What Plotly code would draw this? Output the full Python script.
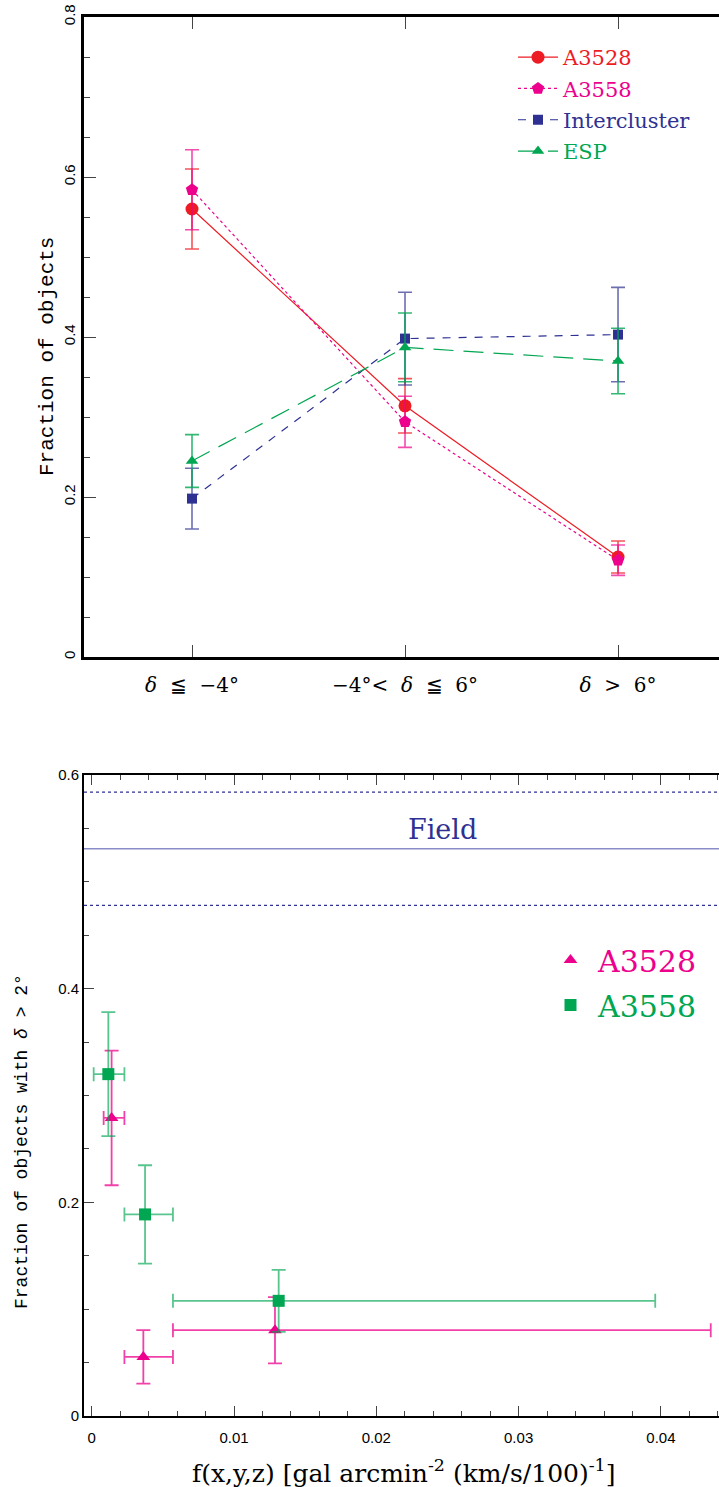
import plotly.graph_objects as go

# ---------------- data: top panel ----------------
categories = [1, 2, 3]
cat_labels = ["<i>δ</i>  ≦  −4°", "−4°<  <i>δ</i>  ≦  6°", "<i>δ</i>  >  6°"]

a3528_frac = [0.560, 0.314, 0.125]
a3528_err = [0.050, 0.034, 0.020]
a3558_frac = [0.584, 0.294, 0.121]
a3558_err = [0.050, 0.032, 0.019]
inter_frac = [0.198, 0.398, 0.403]
inter_err = [0.038, 0.058, 0.059]
esp_frac = [0.245, 0.387, 0.370]
esp_err = [0.033, 0.043, 0.041]

# ---------------- data: bottom panel ----------------
a3528_f = [0.0014, 0.00363, 0.01288]
a3528_f_lo = [0.00084, 0.0023, 0.00571]
a3528_f_hi = [0.0023, 0.00571, 0.0435]
a3528_y = [0.279, 0.0553, 0.0803]
a3528_yerr = [0.063, 0.025, 0.031]

a3558_f = [0.00117, 0.00375, 0.01314]
a3558_f_lo = [0.00014, 0.0023, 0.00571]
a3558_f_hi = [0.0023, 0.00571, 0.0396]
a3558_y = [0.320, 0.1887, 0.1078]
a3558_yerr = [0.058, 0.046, 0.029]

field_frac = 0.531
field_err = 0.053

# ---------------- styles ----------------
W, H = 719, 1487
RED = "#ED1C24"
PINK = "#EC008C"
BLUE = "#2E3192"
GREEN = "#00A651"
SERIF = "DejaVu Serif"
MONO = "Liberation Mono"
SANS = "Liberation Sans"


def px_y(p):
    return 1 - p / H


fig = go.Figure()

# top panel traces
top_series = [
    ("A3528", a3528_frac, a3528_err, RED, "solid", "circle", 13, "rgba(237,28,36,0.75)"),
    ("A3558", a3558_frac, a3558_err, PINK, "dot", "pentagon", 13, "rgba(236,0,140,0.7)"),
    ("Intercluster", inter_frac, inter_err, BLUE, "8px,8px", "square", 10, "rgba(46,49,146,0.7)"),
    ("ESP", esp_frac, esp_err, GREEN, "20px,10px", "triangle-up", 11, "rgba(0,166,81,0.8)"),
]
for i, (name, vals, errs, col, dash, sym, size, ecol) in enumerate(top_series):
    fig.add_trace(go.Scatter(
        x=categories, y=vals, mode="lines+markers",
        name=f"<span style='color:{col}'>{name}</span>",
        line=dict(color=col, width=1.2, dash=dash),
        marker=dict(symbol=sym, size=size, color=col),
        error_y=dict(type="data", array=errs, visible=True, color=ecol, thickness=1.6, width=7),
        xaxis="x", yaxis="y", legend="legend", legendgroup=f"g{i}",
    ))

# bottom panel traces
bottom_series = [
    ("A3528", a3528_f, a3528_f_lo, a3528_f_hi, a3528_y, a3528_yerr, PINK, "triangle-up", 12, "rgba(236,0,140,0.75)"),
    ("A3558", a3558_f, a3558_f_lo, a3558_f_hi, a3558_y, a3558_yerr, GREEN, "square", 12, "rgba(0,166,81,0.65)"),
]
for i, (name, xs, lo, hi, ys, yerr, col, sym, size, ecol) in enumerate(bottom_series):
    fig.add_trace(go.Scatter(
        x=xs, y=ys, mode="markers",
        name=f"<span style='color:{col}'>{name}</span>",
        marker=dict(symbol=sym, size=size, color=col),
        error_y=dict(type="data", array=yerr, visible=True, color=ecol, thickness=1.8, width=7),
        error_x=dict(type="data", array=[h - x for h, x in zip(hi, xs)],
                     arrayminus=[x - l for x, l in zip(xs, lo)],
                     visible=True, color=ecol, thickness=1.8, width=7),
        xaxis="x2", yaxis="y2", legend="legend2", legendgroup=f"b{i}",
    ))

# Field lines
for yv, dash, col, wd in [
    (field_frac, "solid", "#8A8CC8", 1.5),
    (field_frac + field_err, "dot", BLUE, 1.2),
    (field_frac - field_err, "dot", BLUE, 1.2),
]:
    fig.add_shape(type="line", xref="x2 domain", yref="y2", x0=0, x1=1, y0=yv, y1=yv,
                  line=dict(color=col, width=wd, dash=dash), layer="below")

annotations = [
    dict(text="Field", x=442 / W, xref="paper", xanchor="center", y=field_frac, yref="y2",
         yanchor="bottom", yshift=2, showarrow=False, font=dict(family=SERIF, size=27, color=BLUE)),
    dict(text="Fraction of objects", x=48 / W, xref="paper", xanchor="center",
         y=px_y(357), yref="paper", yanchor="middle",
         textangle=-90, showarrow=False, font=dict(family=MONO, size=21, color="black")),
    dict(text="Fraction of objects with <i>δ</i> > 2°", x=22 / W, xref="paper", xanchor="center",
         y=px_y(1142), yref="paper", yanchor="middle",
         textangle=-90, showarrow=False, font=dict(family=MONO, size=18, color="black")),
    dict(text="f(x,y,z) [gal arcmin<sup>-2</sup> (km/s/100)<sup>-1</sup>]", x=404 / W, xref="paper",
         xanchor="center", y=px_y(1471), yref="paper", yanchor="middle",
         showarrow=False, font=dict(family=SERIF, size=25, color="black")),
]

xdom = [84 / W, 1]
fig.update_layout(
    width=W, height=H,
    margin=dict(l=0, r=0, t=0, b=0),
    paper_bgcolor="white", plot_bgcolor="white",
    showlegend=True,
    annotations=annotations,
    xaxis=dict(domain=xdom, anchor="y", range=[0.493, 3.474],
               tickvals=categories, ticktext=cat_labels,
               ticks="inside", ticklen=12, tickcolor="#444", tickwidth=1,
               showline=True, linecolor="black", linewidth=2.5, mirror="ticks",
               showgrid=False, zeroline=False, automargin=False, ticklabelstandoff=8,
               tickfont=dict(family=SERIF, size=20, color="black")),
    yaxis=dict(domain=[px_y(657), px_y(17)], anchor="x", range=[0, 0.8], dtick=0.2,
               ticks="inside", ticklen=12, tickcolor="#444", tickwidth=1,
               minor=dict(dtick=0.05, ticks="inside", ticklen=6, tickcolor="#444"),
               showline=True, linecolor="black", linewidth=2.5, mirror=False,
               showgrid=False, zeroline=False, automargin=False, tickangle=-90,
               tickfont=dict(family=SANS, size=15, color="black")),
    xaxis2=dict(domain=xdom, anchor="y2", range=[-0.00054, 0.04408], dtick=0.01,
                ticks="inside", ticklen=10, tickcolor="#444", tickwidth=1,
                minor=dict(dtick=0.002, ticks="inside", ticklen=5, tickcolor="#444"),
                showline=True, linecolor="black", linewidth=2, mirror="ticks",
                showgrid=False, zeroline=False, automargin=False, ticklabelstandoff=7,
                tickfont=dict(family=SANS, size=15, color="black")),
    yaxis2=dict(domain=[px_y(1416), px_y(775)], anchor="x2", range=[0, 0.6], dtick=0.2,
                ticks="inside", ticklen=10, tickcolor="#444", tickwidth=1,
                minor=dict(dtick=0.05, ticks="inside", ticklen=5, tickcolor="#444"),
                showline=True, linecolor="black", linewidth=2, mirror=False,
                showgrid=False, zeroline=False, automargin=False,
                tickfont=dict(family=SANS, size=15, color="black")),
    legend=dict(x=513 / W, y=px_y(37), xanchor="left", yanchor="top", itemwidth=40,
                bgcolor="rgba(0,0,0,0)", traceorder="grouped", tracegroupgap=1,
                font=dict(family=SERIF, size=21, color="black")),
    legend2=dict(x=543 / W, y=px_y(934), xanchor="left", yanchor="top", itemwidth=45,
                 bgcolor="rgba(0,0,0,0)", traceorder="grouped", tracegroupgap=3,
                 font=dict(family=SERIF, size=30, color="black")),
)

fig.write_html("out.html")
